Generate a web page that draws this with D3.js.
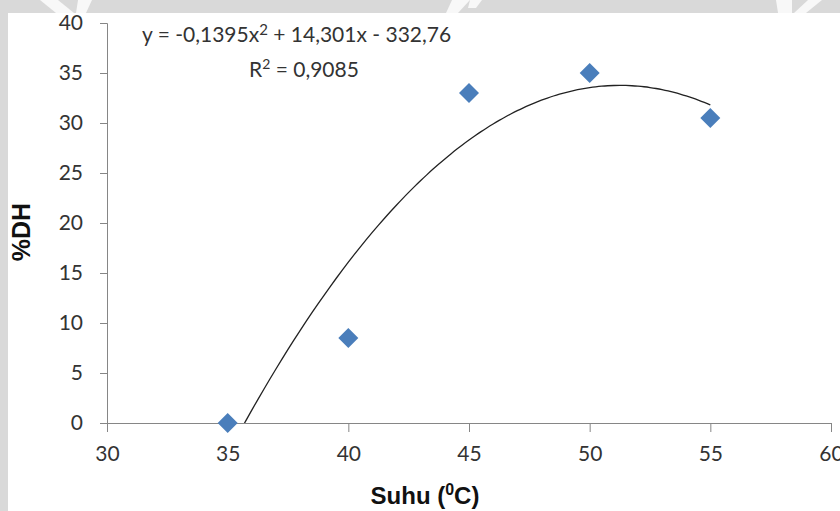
<!DOCTYPE html>
<html>
<head>
<meta charset="utf-8">
<script src="https://cdn.jsdelivr.net/npm/d3@7"></script>
<style>
  body { margin: 0; background: #d9d9d9; }
  svg { display: block; }
</style>
</head>
<body>
<script>
// data
let suhu = [35, 40, 45, 50, 55]
let dh = [0, 8.5, 33, 35, 30.5]
let xTicks = [30, 35, 40, 45, 50, 55, 60]
let yTicks = [0, 5, 10, 15, 20, 25, 30, 35, 40]
// trendline coefficients as printed on the chart (a, b, c)
let trendCoef = [-0.1395, 14.301, -332.76]
let trendRange = [35, 55]

let w = 840;
let h = 511;

let svg = d3.select("body")
    .append("svg")
    .attr("width", w)
    .attr("height", h)

// gray band + white sheet
svg.append("rect").attr("width", w).attr("height", h).attr("fill", "#d9d9d9")
// watermark strokes in the top band
let marks = [[40, 0, 58, 0, 74, 13, 56, 13], [78, 0, 92, 0, 86, 13, 76, 13], [452, 0, 470, 0, 458, 13, 446, 13],
    [470, 0, 482, 0, 476, 8, 468, 8], [776, 0, 792, 0, 792, 13, 778, 13], [808, 0, 822, 0, 806, 13, 794, 13]]
svg.selectAll(".wm").data(marks).enter().append("polygon")
    .attr("points", (p) => [[p[0], p[1]], [p[2], p[3]], [p[4], p[5]], [p[6], p[7]]].join(" "))
    .attr("fill", "#ffffff").attr("opacity", 0.8)
svg.append("rect").attr("x", 8).attr("y", 13).attr("width", w - 8).attr("height", h - 13).attr("fill", "#ffffff")

let x = d3.scaleLinear().domain([30, 60]).range([107, 831])
let y = d3.scaleLinear().domain([0, 40]).range([423, 23])

let tickFont = "Lato, 'Open Sans', sans-serif"

// y axis
let yAxis = svg.append("g")
    .attr("transform", "translate(107,0)")
    .call(d3.axisLeft(y).tickValues(yTicks).tickSize(7).tickPadding(17).tickFormat(d3.format("d")))
yAxis.select(".domain").attr("stroke", "#868686")
yAxis.selectAll(".tick line").attr("stroke", "#868686")
yAxis.selectAll("text").attr("font-family", tickFont).attr("font-size", 21).attr("fill", "#333")

// x axis
let xAxis = svg.append("g")
    .attr("transform", "translate(0,423)")
    .call(d3.axisBottom(x).tickValues(xTicks).tickSize(9).tickPadding(14).tickFormat(d3.format("d")))
xAxis.select(".domain").attr("stroke", "#868686").attr("d", "M100,0.5H831.5V9")
xAxis.selectAll(".tick line").attr("stroke", "#868686")
xAxis.selectAll("text").attr("font-family", tickFont).attr("font-size", 21).attr("fill", "#333")

// trendline, clipped to the plot area
svg.append("clipPath").attr("id", "plot")
    .append("rect").attr("x", 107).attr("y", 23).attr("width", 724).attr("height", 400)

let trendPts = d3.range(trendRange[0], trendRange[1] + 0.001, 0.25).map((t) => {
    return [t, trendCoef[0] * t * t + trendCoef[1] * t + trendCoef[2]]
})
let line = d3.line().x((d) => x(d[0])).y((d) => y(d[1])).curve(d3.curveMonotoneX)
svg.append("path")
    .datum(trendPts)
    .attr("d", line)
    .attr("clip-path", "url(#plot)")
    .attr("fill", "none")
    .attr("stroke", "#222")
    .attr("stroke-width", 1.3)

// diamond markers
let pts = suhu.map((s, i) => ({ s: s, v: dh[i] }))
svg.append("g").selectAll("path")
    .data(pts)
    .enter().append("path")
    .attr("d", d3.symbol().type(d3.symbolSquare).size(200))
    .attr("transform", (d) => "translate(" + x(d.s) + "," + y(d.v) + ") rotate(45)")
    .attr("fill", "#4a7ebb")

// equation + R2
let eq = svg.append("text")
    .attr("x", 142).attr("y", 42)
    .attr("font-family", tickFont).attr("font-size", 21).attr("fill", "#333")
eq.append("tspan").text("y = -0,1395x")
eq.append("tspan").attr("font-size", 15).attr("dy", -7).text("2")
eq.append("tspan").attr("dy", 7).text(" + 14,301x - 332,76")
let r2 = svg.append("text")
    .attr("x", 249).attr("y", 77)
    .attr("font-family", tickFont).attr("font-size", 21).attr("fill", "#333")
r2.append("tspan").text("R")
r2.append("tspan").attr("font-size", 14).attr("dy", -8).text("2")
r2.append("tspan").attr("dy", 8).text(" = 0,9085")

// axis titles
let xt = svg.append("text")
    .attr("x", 425).attr("y", 504)
    .attr("text-anchor", "middle")
    .attr("font-family", "'Liberation Sans', Arial, sans-serif").attr("font-weight", "bold")
    .attr("font-size", 24).attr("fill", "#111")
xt.append("tspan").text("Suhu (")
xt.append("tspan").attr("font-size", 16).attr("dy", -9).text("0")
xt.append("tspan").attr("dy", 9).text("C)")

svg.append("text")
    .attr("transform", "translate(30,232) rotate(-90)")
    .attr("text-anchor", "middle")
    .attr("font-family", "'Liberation Sans', Arial, sans-serif").attr("font-weight", "bold")
    .attr("font-size", 25).attr("fill", "#111")
    .text("%DH")
</script>
</body>
</html>
